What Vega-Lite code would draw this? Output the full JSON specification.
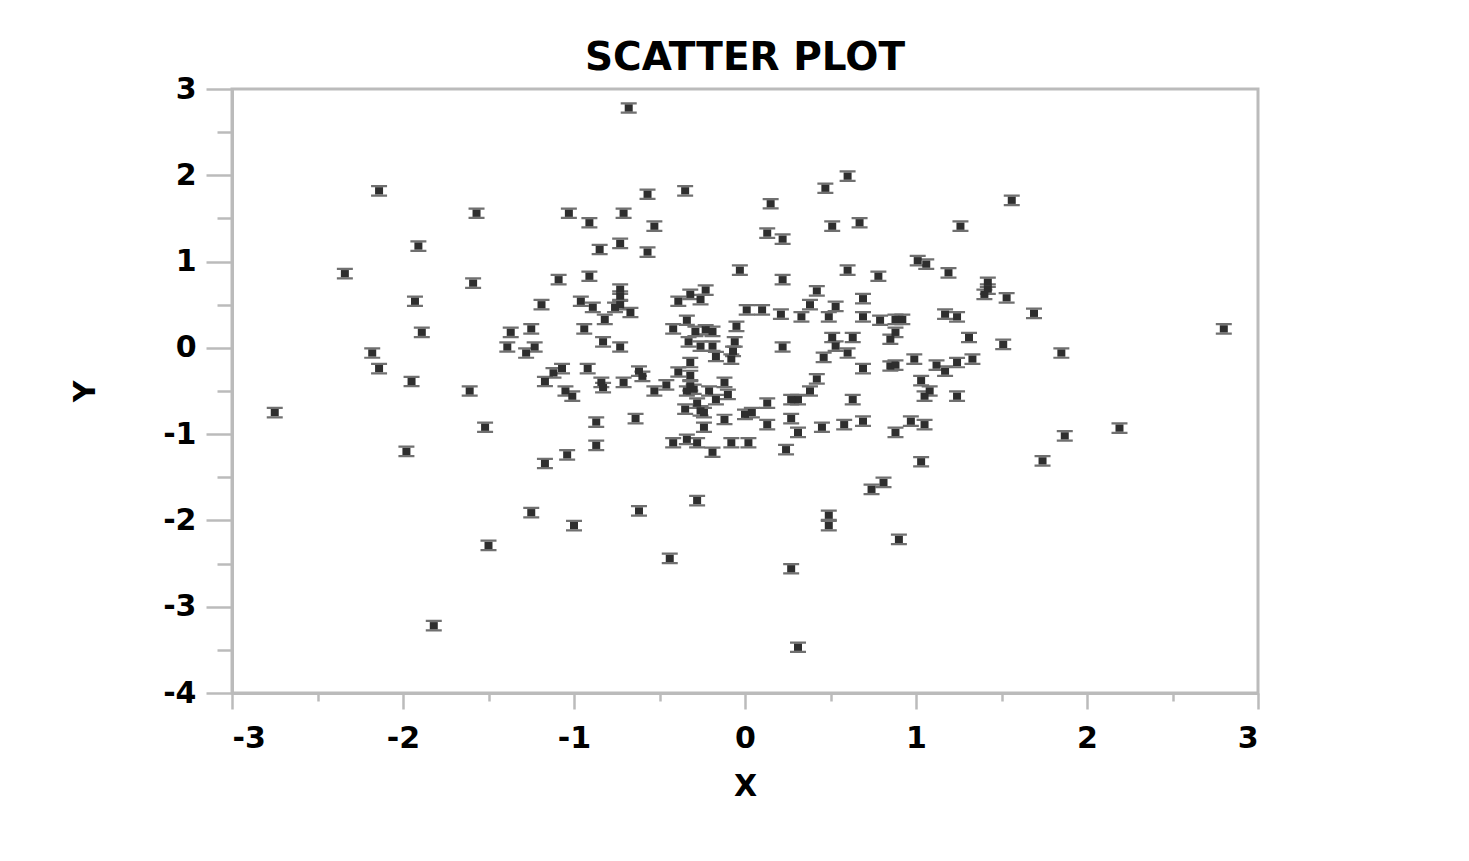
{
  "$schema": "https://vega.github.io/schema/vega-lite/v6.json",
  "autosize": "none",
  "width": 1026,
  "height": 604,
  "padding": {"left": 232, "top": 89, "right": 211, "bottom": 168},
  "background": "white",
  "title": {"text": "SCATTER PLOT", "font": "DejaVu Sans", "fontSize": 39, "fontWeight": "bold", "color": "black", "anchor": "middle", "frame": "group", "baseline": "alphabetic", "offset": -35},
  "config": {"view": {"stroke": "#bbbbbb", "strokeWidth": 3}},
  "data": {"values": [
    {"x": -0.68, "y": 2.78}, {"x": -2.14, "y": 1.82}, {"x": -1.57, "y": 1.56}, {"x": -1.91, "y": 1.18},
    {"x": -2.34, "y": 0.86}, {"x": -1.59, "y": 0.75}, {"x": -1.93, "y": 0.54}, {"x": -1.19, "y": 0.50},
    {"x": -1.89, "y": 0.18}, {"x": -1.37, "y": 0.18}, {"x": -1.25, "y": 0.22}, {"x": -1.39, "y": 0.01},
    {"x": -1.23, "y": 0.01}, {"x": -1.28, "y": -0.06}, {"x": -2.18, "y": -0.06}, {"x": -2.14, "y": -0.24},
    {"x": -1.95, "y": -0.39}, {"x": -1.61, "y": -0.50}, {"x": -2.75, "y": -0.75}, {"x": -1.52, "y": -0.92},
    {"x": -1.98, "y": -1.20}, {"x": -1.17, "y": -1.34}, {"x": -1.25, "y": -1.91}, {"x": -1.50, "y": -2.29},
    {"x": -1.82, "y": -3.22}, {"x": -1.17, "y": -0.39}, {"x": -1.09, "y": 0.79}, {"x": -1.07, "y": -0.24},
    {"x": -1.12, "y": -0.29}, {"x": -1.05, "y": -0.50}, {"x": -1.01, "y": -0.56}, {"x": -1.04, "y": -1.24},
    {"x": 0.60, "y": 1.99}, {"x": 0.47, "y": 1.85}, {"x": -0.57, "y": 1.78}, {"x": -0.35, "y": 1.82},
    {"x": 0.15, "y": 1.67}, {"x": -1.03, "y": 1.56}, {"x": -0.71, "y": 1.56}, {"x": -0.91, "y": 1.45},
    {"x": -0.53, "y": 1.41}, {"x": 0.51, "y": 1.41}, {"x": 0.67, "y": 1.45}, {"x": 0.13, "y": 1.33},
    {"x": 0.22, "y": 1.26}, {"x": -0.73, "y": 1.21}, {"x": -0.85, "y": 1.14}, {"x": -0.57, "y": 1.11},
    {"x": -0.03, "y": 0.90}, {"x": 0.60, "y": 0.90}, {"x": 0.78, "y": 0.83}, {"x": 0.22, "y": 0.79},
    {"x": -0.91, "y": 0.83}, {"x": -0.73, "y": 0.68}, {"x": -0.73, "y": 0.60}, {"x": 0.42, "y": 0.66},
    {"x": 0.69, "y": 0.57}, {"x": -0.23, "y": 0.67}, {"x": -0.32, "y": 0.62}, {"x": -0.26, "y": 0.56},
    {"x": -0.39, "y": 0.54}, {"x": -0.96, "y": 0.54}, {"x": -0.89, "y": 0.47}, {"x": -0.73, "y": 0.50},
    {"x": -0.67, "y": 0.41}, {"x": -0.76, "y": 0.47}, {"x": -0.82, "y": 0.33}, {"x": -0.94, "y": 0.22},
    {"x": -0.83, "y": 0.07}, {"x": -0.73, "y": 0.01}, {"x": 0.01, "y": 0.44}, {"x": 0.10, "y": 0.44},
    {"x": 0.21, "y": 0.39}, {"x": 0.33, "y": 0.36}, {"x": 0.38, "y": 0.50}, {"x": 0.53, "y": 0.48},
    {"x": 0.49, "y": 0.36}, {"x": 0.69, "y": 0.36}, {"x": 0.79, "y": 0.32}, {"x": -0.34, "y": 0.32},
    {"x": -0.42, "y": 0.22}, {"x": -0.29, "y": 0.19}, {"x": -0.23, "y": 0.21}, {"x": -0.19, "y": 0.19},
    {"x": -0.05, "y": 0.25}, {"x": -0.33, "y": 0.07}, {"x": -0.26, "y": 0.02}, {"x": -0.19, "y": 0.02},
    {"x": -0.06, "y": 0.07}, {"x": -0.07, "y": -0.04}, {"x": 0.22, "y": 0.01}, {"x": 0.51, "y": 0.12},
    {"x": 0.63, "y": 0.12}, {"x": 0.53, "y": 0.02}, {"x": 0.60, "y": -0.06}, {"x": 0.46, "y": -0.11},
    {"x": -0.17, "y": -0.10}, {"x": -0.08, "y": -0.13}, {"x": -0.32, "y": -0.17}, {"x": -0.39, "y": -0.28},
    {"x": -0.32, "y": -0.32}, {"x": -0.62, "y": -0.27}, {"x": -0.60, "y": -0.33}, {"x": -0.92, "y": -0.24},
    {"x": -0.84, "y": -0.40}, {"x": -0.83, "y": -0.46}, {"x": -0.71, "y": -0.40}, {"x": -0.46, "y": -0.43},
    {"x": -0.53, "y": -0.50}, {"x": -0.32, "y": -0.44}, {"x": -0.34, "y": -0.50}, {"x": -0.30, "y": -0.48},
    {"x": -0.21, "y": -0.50}, {"x": -0.12, "y": -0.40}, {"x": -0.10, "y": -0.54}, {"x": -0.17, "y": -0.60},
    {"x": -0.28, "y": -0.64}, {"x": -0.35, "y": -0.71}, {"x": -0.26, "y": -0.73}, {"x": -0.24, "y": -0.75},
    {"x": -0.12, "y": -0.83}, {"x": 0.00, "y": -0.77}, {"x": 0.04, "y": -0.75}, {"x": 0.13, "y": -0.64},
    {"x": 0.13, "y": -0.89}, {"x": -0.24, "y": -0.92}, {"x": -0.64, "y": -0.82}, {"x": -0.87, "y": -0.86},
    {"x": -0.87, "y": -1.13}, {"x": -0.42, "y": -1.10}, {"x": -0.34, "y": -1.06}, {"x": -0.28, "y": -1.10},
    {"x": -0.19, "y": -1.21}, {"x": -0.08, "y": -1.10}, {"x": 0.02, "y": -1.10}, {"x": 0.81, "y": -1.56},
    {"x": 0.74, "y": -1.64}, {"x": -0.28, "y": -1.77}, {"x": -0.62, "y": -1.89}, {"x": -1.00, "y": -2.06},
    {"x": 0.49, "y": -1.94}, {"x": 0.49, "y": -2.06}, {"x": -0.44, "y": -2.44}, {"x": 0.27, "y": -2.56},
    {"x": 0.31, "y": -3.47}, {"x": 0.90, "y": -2.22}, {"x": 0.24, "y": -1.18}, {"x": 0.27, "y": -0.82},
    {"x": 0.31, "y": -0.98}, {"x": 0.45, "y": -0.92}, {"x": 0.58, "y": -0.89}, {"x": 0.69, "y": -0.85},
    {"x": 0.63, "y": -0.60}, {"x": 0.31, "y": -0.60}, {"x": 0.27, "y": -0.60}, {"x": 0.38, "y": -0.50},
    {"x": 0.42, "y": -0.36}, {"x": 0.69, "y": -0.24}, {"x": 0.85, "y": -0.21}, {"x": 1.01, "y": 1.01},
    {"x": 1.06, "y": 0.97}, {"x": 1.19, "y": 0.87}, {"x": 1.42, "y": 0.76}, {"x": 1.42, "y": 0.68},
    {"x": 1.40, "y": 0.62}, {"x": 1.53, "y": 0.58}, {"x": 0.88, "y": 0.33}, {"x": 0.92, "y": 0.33},
    {"x": 0.88, "y": 0.18}, {"x": 0.85, "y": 0.10}, {"x": 1.17, "y": 0.39}, {"x": 1.24, "y": 0.36},
    {"x": 1.31, "y": 0.12}, {"x": 1.51, "y": 0.04}, {"x": 0.88, "y": -0.20}, {"x": 0.99, "y": -0.13},
    {"x": 1.12, "y": -0.20}, {"x": 1.17, "y": -0.27}, {"x": 1.24, "y": -0.17}, {"x": 1.33, "y": -0.13},
    {"x": 1.03, "y": -0.38}, {"x": 1.08, "y": -0.50}, {"x": 1.05, "y": -0.56}, {"x": 1.24, "y": -0.56},
    {"x": 0.88, "y": -0.98}, {"x": 0.97, "y": -0.85}, {"x": 1.05, "y": -0.89}, {"x": 1.03, "y": -1.32},
    {"x": 1.56, "y": 1.71}, {"x": 1.26, "y": 1.41}, {"x": 1.69, "y": 0.40}, {"x": 2.80, "y": 0.22},
    {"x": 1.85, "y": -0.06}, {"x": 2.19, "y": -0.93}, {"x": 1.87, "y": -1.02}, {"x": 1.74, "y": -1.31}
  ]},
  "encoding": {
    "x": {"field": "x", "type": "quantitative", "scale": {"domain": [-3, 3], "nice": false, "zero": false}},
    "y": {"field": "y", "type": "quantitative", "scale": {"domain": [-4, 3], "nice": false, "zero": false}}
  },
  "resolve": {"axis": {"x": "independent", "y": "independent"}},
  "layer": [
    {
      "mark": {"type": "point", "shape": "M-1,-0.73H1V-0.45H-1ZM-1,0.45H1V0.73H-1Z", "filled": true, "fill": "#707070", "size": 256, "opacity": 1, "strokeWidth": 0},
      "encoding": {
        "x": {"field": "x", "type": "quantitative", "axis": {"orient": "bottom", "title": "X", "values": [-3, -2, -1, 0, 1, 2, 3], "grid": false, "domainColor": "#bbbbbb", "domainWidth": 3, "tickColor": "#bbbbbb", "tickWidth": 2.5, "tickSize": 16, "labelFont": "DejaVu Sans", "labelFontSize": 30, "labelFontWeight": "bold", "labelColor": "black", "labelPadding": 14, "labelExpr": "datum.value < 0 ? '-' + abs(datum.value) : '' + datum.value", "titleFont": "DejaVu Sans", "titleFontSize": 30, "titleFontWeight": "bold", "titleColor": "black", "titlePadding": 18}},
        "y": {"field": "y", "type": "quantitative", "axis": {"orient": "left", "title": "Y", "values": [-4, -3, -2, -1, 0, 1, 2, 3], "grid": false, "domainColor": "#bbbbbb", "domainWidth": 3, "tickColor": "#bbbbbb", "tickWidth": 2.5, "tickSize": 26, "labelFont": "DejaVu Sans", "labelFontSize": 30, "labelFontWeight": "bold", "labelColor": "black", "labelPadding": 10, "labelExpr": "datum.value < 0 ? '-' + abs(datum.value) : '' + datum.value", "titleFont": "DejaVu Sans", "titleFontSize": 30, "titleFontWeight": "bold", "titleColor": "black", "titlePadding": 62}}
      }
    },
    {
      "mark": {"type": "point", "shape": "M-0.5,-0.45H0.5V0.45H-0.5Z", "filled": true, "fill": "#2e2e2e", "size": 256, "opacity": 1, "strokeWidth": 0},
      "encoding": {
        "x": {"field": "x", "type": "quantitative", "axis": {"orient": "bottom", "title": null, "values": [-2.5, -1.5, -0.5, 0.5, 1.5, 2.5], "grid": false, "domain": false, "labels": false, "tickColor": "#bbbbbb", "tickWidth": 2.5, "tickSize": 8}},
        "y": {"field": "y", "type": "quantitative", "axis": {"orient": "left", "title": null, "values": [-3.5, -2.5, -1.5, -0.5, 0.5, 1.5, 2.5], "grid": false, "domain": false, "labels": false, "tickColor": "#bbbbbb", "tickWidth": 2.5, "tickSize": 15}}
      }
    }
  ]
}
